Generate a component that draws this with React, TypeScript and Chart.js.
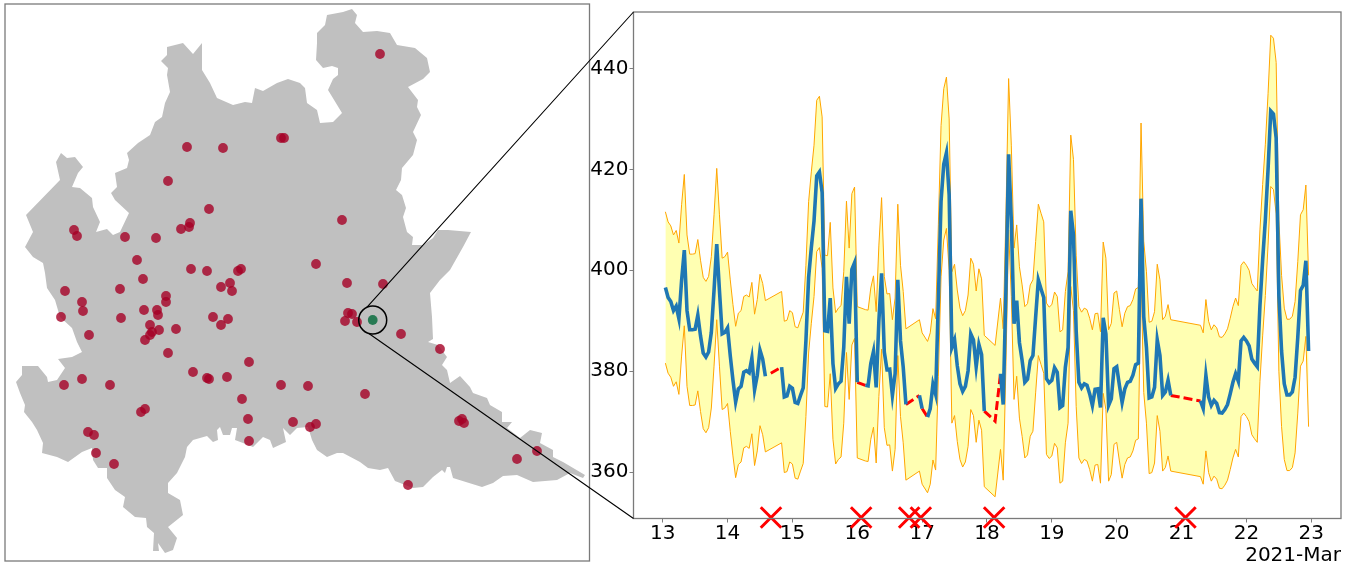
import React, { useEffect, useRef } from "react";
import { Chart, registerables } from "chart.js";

Chart.register(...registerables);

const n = null;

// ---------- Right panel: hourly readings from 13 March 00:00 (first reading is hour 1)
const dayTicks = [13, 14, 15, 16, 17, 18, 19, 20, 21, 22, 23];
const valueTicks = [360, 380, 400, 420, 440];
const dateLabel = "2021-Mar";

const meanValues = [
  396.6, 394.6, 393.8, 392, 392.9, 390.4, 398, 404, 392, 388.2, 388.2, 388.3,
  391.1, 387, 383.6, 382.8, 383.8, 387.7, 396, 405.2, 396, 387.4, 387.7, 388.6,
  383.1, 378.2, 373.9, 376.5, 377, 379.8, 380.1, 379.7, 382.6, 376.3, 379.2, 384.2,
  382.4, 379, n, n, n, n, n, 380.8, 374.9, 375.1, 377, 376.6,
  373.8, 373.6, 375.2, 376.7, 386, 398.6, 404.5, 409.8, 418.7, 419.5, 415.4, 388,
  387.9, 394.5, 381.5, 376.6, 377.5, 378, 384.7, 398.7, 389.4, 400.2, 401.5, 377.8,
  n, n, 377.2, 377.1, 381.5, 383.9, 376.8, 390, 399.4, 383.8, 380.3, 380.4,
  375.2, 379.5, 398.1, 386, 380.8, 373.4, n, n, n, n, 375.2, 372.6,
  n, 370.9, 372.6, 377.4, 375.4, 394, 413.7, 421, 423.3, 415, 384.7, 386.2,
  381.1, 377.5, 376, 377, 380.1, 387.4, 386.2, 380.9, 385.3, 383.3, 372.1, n,
  n, n, n, n, 379.5, 373.4, 396, 423, 409.8, 389.4, 394, 385.7,
  382.1, 377.8, 378.4, 382.1, 383.1, 390.7, 398.1, 396.3, 394.6, 378.5, 377.7, 378.2,
  380.7, 379.8, 372.8, 373.2, 380.8, 384.7, 411.8, 407, 388, 377.8, 376.7, 377.5,
  377.2, 375.5, 373.2, 376.4, 376.5, 372.8, 390.6, 387.4, 373.2, 374.5, 380.5, 380.9,
  377.2, 373.8, 376.5, 377.8, 378, 379.2, 381.3, 381.6, 414.2, 390.8, 384.7, 374.7,
  374.9, 376.8, 386.2, 383.1, 375.2, 375.9, 378.2, 375.2, n, n, n, n,
  n, n, n, n, n, n, 374.1, 372.6, 379.2, 374.9, 373.2, 374.2,
  373.6, 371.8, 371.7, 372.4, 373.4, 375.5, 377.8, 379.5, 378, 386, 386.7, 386,
  385, 382.4, 381.6, 380.9, 393, 402, 410, 420, 431.6, 431, 426.2, 395,
  384, 377.5, 375.3, 375.3, 375.9, 378.8, 386.7, 396, 397, 401.9, 384,
];

const upperValues = [
  411.6, 409.6, 408.8, 407, 407.9, 405.4, 413, 419, 407, 403.2, 403.2, 403.3,
  406.1, 402, 398.6, 397.8, 398.8, 402.7, 411, 420.2, 411, 402.4, 402.7, 403.6,
  398.1, 393.2, 388.9, 391.5, 392, 394.8, 395.1, 394.7, 397.6, 391.3, 394.2, 399.2,
  397.4, 394, n, n, n, n, n, 395.8, 389.9, 390.1, 392, 391.6,
  388.8, 388.6, 390.2, 391.7, 401, 413.6, 419.5, 424.8, 433.7, 434.5, 430.4, 403,
  402.9, 409.5, 396.5, 391.6, 392.5, 393, 399.7, 413.7, 404.4, 415.2, 416.5, 392.8,
  n, n, 392.2, 392.1, 396.5, 398.9, 391.8, 405, 414.4, 398.8, 395.3, 395.4,
  390.2, 394.5, 413.1, 401, 395.8, 388.4, n, n, n, n, 390.2, 387.6,
  n, 385.9, 387.6, 392.4, 390.4, 409, 428.7, 436, 438.3, 430, 399.7, 401.2,
  396.1, 392.5, 391, 392, 395.1, 402.4, 401.2, 395.9, 400.3, 398.3, 387.1, n,
  n, n, 385.1, n, 394.5, 388.4, 411, 438, 424.8, 404.4, 409, 400.7,
  397.1, 392.8, 393.4, 397.1, 398.1, 405.7, 413.1, 411.3, 409.6, 393.5, 392.7, 393.2,
  395.7, 394.8, 387.8, 388.2, 395.8, 399.7, 426.8, 422, 403, 392.8, 391.7, 392.5,
  392.2, 390.5, 388.2, 391.4, 391.5, 387.8, 405.6, 402.4, 388.2, 389.5, 395.5, 395.9,
  392.2, 388.8, 391.5, 392.8, 393, 394.2, 396.3, 396.6, 429.2, 405.8, 399.7, 389.7,
  389.9, 391.8, 401.2, 398.1, 390.2, 390.9, 393.2, 390.2, n, n, n, n,
  n, n, n, n, n, n, 389.1, 387.6, 394.2, 389.9, 388.2, 389.2,
  388.6, 386.8, 386.7, 387.4, 388.4, 390.5, 392.8, 394.5, 393, 401, 401.7, 401,
  400, 397.4, 396.6, 395.9, 408, 417, 425, 435, 446.6, 446, 441.2, 410,
  399, 392.5, 390.3, 390.3, 390.9, 393.8, 401.7, 411, 412, 416.9, 399,
];

const lowerValues = [
  381.6, 379.6, 378.8, 377, 377.9, 375.4, 383, 389, 377, 373.2, 373.2, 373.3,
  376.1, 372, 368.6, 367.8, 368.8, 372.7, 381, 390.2, 381, 372.4, 372.7, 373.6,
  368.1, 363.2, 358.9, 361.5, 362, 364.8, 365.1, 364.7, 367.6, 361.3, 364.2, 369.2,
  367.4, 364, n, n, n, n, n, 365.8, 359.9, 360.1, 362, 361.6,
  358.8, 358.6, 360.2, 361.7, 371, 383.6, 389.5, 394.8, 403.7, 404.5, 400.4, 373,
  372.9, 379.5, 366.5, 361.6, 362.5, 363, 369.7, 383.7, 374.4, 385.2, 386.5, 362.8,
  n, n, 362.2, 362.1, 366.5, 368.9, 361.8, 375, 384.4, 368.8, 365.3, 365.4,
  360.2, 364.5, 383.1, 371, 365.8, 358.4, n, n, n, n, 360.2, 357.6,
  n, 355.9, 357.6, 362.4, 360.4, 379, 398.7, 406, 408.3, 400, 369.7, 371.2,
  366.1, 362.5, 361, 362, 365.1, 372.4, 371.2, 365.9, 370.3, 368.3, 357.1, n,
  n, n, 355.1, n, 364.5, 358.4, 381, 408, 394.8, 374.4, 379, 370.7,
  367.1, 362.8, 363.4, 367.1, 368.1, 375.7, 383.1, 381.3, 379.6, 363.5, 362.7, 363.2,
  365.7, 364.8, 357.8, 358.2, 365.8, 369.7, 396.8, 392, 373, 362.8, 361.7, 362.5,
  362.2, 360.5, 358.2, 361.4, 361.5, 357.8, 375.6, 372.4, 358.2, 359.5, 365.5, 365.9,
  362.2, 358.8, 361.5, 362.8, 363, 364.2, 366.3, 366.6, 399.2, 375.8, 369.7, 359.7,
  359.9, 361.8, 371.2, 368.1, 360.2, 360.9, 363.2, 360.2, n, n, n, n,
  n, n, n, n, n, n, 359.1, 357.6, 364.2, 359.9, 358.2, 359.2,
  358.6, 356.8, 356.7, 357.4, 358.4, 360.5, 362.8, 364.5, 363, 371, 371.7, 371,
  370, 367.4, 366.6, 365.9, 378, 387, 395, 405, 416.6, 416, 411.2, 380,
  369, 362.5, 360.3, 360.3, 360.9, 363.8, 371.7, 381, 382, 386.9, 369,
];

// dashed repair lines over missing readings; a null breaks the line
const repairHours = [40, 44, 44, 72, 75, 75, 90, 95, 95, 96, 98, 98, 119, 123, 125, 125, 188, 199];
const repairValues = [379.6, 380.8, n, 377.8, 377.2, n, 373.4, 375.2, n, 372.6, 370.9, n, 372.1, 370.1, 379.5, n, 375.2, 374.1];

const anomalyDays = [14.67, 16.06, 16.8, 16.98, 18.11, 21.06];
const anomalyValues = [351, 351, 351, 351, 351, 351];

// ---------- Left panel: region outline and stations, in map units
const outlineX = [
  26, 60, 56, 61, 67, 75, 83, 78, 72, 80, 92, 93, 100, 96, 107, 113, 120, 129, 115, 111, 117, 115, 127, 129, 127, 138, 150, 155, 162, 165, 170, 167, 168, 161, 167, 167, 183, 193, 202, 202, 210, 217, 233, 245, 252, 255, 263, 277, 288, 300,
  305, 307, 317, 320, 333, 342, 328, 333, 338, 338, 332, 323, 316, 317, 317, 325, 327, 343, 352, 357, 355, 363, 377, 390, 397, 415, 427, 430, 423, 408, 418, 417, 421, 413, 417, 413, 402, 401, 396, 402, 406, 403, 407, 413, 412, 423, 433, 438, 448, 471, 463, 450, 440,
  430, 432, 433, 428, 438, 447, 442, 447, 450, 460, 470, 473, 487, 490, 502, 502, 512, 507, 520, 530, 542, 540, 553, 553, 563, 585, 583, 570, 557, 533, 517, 503, 493, 482, 453, 450, 447, 445, 442, 433, 423, 413, 395, 388, 380, 368, 360, 343, 337, 327, 317, 312, 308, 297,
  290, 283, 286, 273, 270, 263, 253, 243, 235, 237, 232, 230, 223, 220, 217, 218, 213, 207, 193, 187, 185, 177, 168, 168, 180, 183, 168, 177, 173, 165, 158, 159, 153, 154, 147, 146, 135, 123, 125, 115, 107, 107, 98, 93, 92, 82, 68, 57, 42, 43, 37, 32, 24, 25, 20, 16, 22, 22, 38, 47, 48, 57, 65, 58, 72, 82, 77, 72, 60, 55, 47, 45, 43, 33, 25, 33,
];
const outlineY = [
  215, 180, 162, 153, 158, 157, 167, 173, 187, 188, 198, 207, 222, 232, 229, 235, 232, 213, 200, 193, 187, 173, 168, 160, 153, 143, 135, 122, 117, 103, 92, 75, 68, 61, 55, 47, 43, 54, 43, 70, 83, 98, 105, 102, 103, 88, 91, 83, 79, 83,
  88, 103, 110, 123, 122, 113, 90, 79, 75, 68, 66, 68, 60, 43, 33, 25, 15, 12, 9, 15, 23, 32, 31, 33, 45, 48, 58, 72, 79, 87, 100, 107, 115, 132, 140, 155, 168, 180, 190, 195, 208, 217, 232, 237, 245, 245, 238, 230, 230, 232, 247, 270, 280,
  293, 317, 339, 342, 345, 357, 365, 370, 383, 376, 387, 393, 398, 405, 412, 422, 422, 428, 438, 430, 433, 443, 450, 457, 462, 475, 478, 473, 480, 482, 475, 476, 483, 487, 478, 467, 467, 473, 470, 477, 487, 488, 481, 468, 470, 468, 462, 453, 453, 457, 450, 440, 427, 428,
  435, 428, 442, 448, 440, 437, 447, 443, 440, 428, 428, 435, 435, 427, 430, 440, 442, 436, 440, 447, 457, 473, 483, 493, 500, 515, 527, 538, 550, 553, 543, 551, 551, 533, 527, 518, 517, 507, 497, 490, 478, 468, 468, 460, 448, 452, 462, 457, 453, 443, 430, 422, 412, 405, 393, 382, 375, 366, 366, 377, 382, 380, 368, 359, 357, 352, 342, 328, 317, 300, 288, 273, 263, 257, 247, 232,
];

const stationX = [
  187, 223, 281, 284, 168, 209, 190, 189, 181, 74, 77, 125, 156, 137, 191, 207, 238, 241, 143, 221, 230, 232, 65, 120, 82, 83, 61, 121, 144, 157, 158, 166, 166, 213, 228, 221, 150, 159, 176, 152, 150, 145, 89, 168, 249, 193, 207, 209, 227, 82, 64, 110, 281, 242, 145, 141, 248, 293, 88, 94, 249, 96, 114,
  380, 342, 316, 347, 383, 348, 352, 345, 357, 401, 440, 308, 365, 316, 310, 462, 459, 464, 517, 537, 408,
];
const stationY = [
  147, 148, 138, 138, 181, 209, 223, 227, 229, 230, 236, 237, 238, 260, 269, 271, 271, 269, 279, 287, 283, 291, 291, 289, 302, 311, 317, 318, 310, 310, 315, 296, 302, 317, 319, 325, 325, 330, 329, 332, 335, 340, 335, 353, 362, 372, 378, 379, 377, 379, 385, 385, 385, 399, 409, 412, 419, 422, 432, 435, 441, 453, 464,
  54, 220, 264, 283, 284, 313, 314, 321, 322, 334, 349, 386, 394, 424, 427, 419, 421, 423, 459, 451, 485,
];
const selectedX = [372.7];
const selectedY = [320];

function pairs(xs: number[], ys: (number | null)[]) {
  return xs.map((x, i) => ({ x, y: ys[i] }));
}
const hourToDay = (h: number) => 13 + h / 24;
const hours = meanValues.map((_, i) => i + 1);

const tickGrey = "#7f7f7f";
const frame = (color: string, width: number) => ({
  id: "frame",
  afterDraw(chart: any) {
    const { left, right, top, bottom } = chart.chartArea;
    const c = chart.ctx;
    c.save();
    c.strokeStyle = color;
    c.lineWidth = width;
    c.strokeRect(left, top, right - left, bottom - top);
    c.restore();
  },
});

export default function App() {
  const mapRef = useRef<HTMLCanvasElement>(null);
  const lineRef = useRef<HTMLCanvasElement>(null);

  useEffect(() => {
    const mapChart = new Chart(mapRef.current!, {
      type: "scatter",
      data: {
        datasets: [
          {
            data: pairs(selectedX, selectedY),
            pointRadius: 14,
            pointBackgroundColor: "rgba(0,0,0,0)",
            pointBorderColor: "#000",
            pointBorderWidth: 1.5,
            order: 0,
          },
          {
            data: pairs(selectedX, selectedY),
            pointRadius: 4.9,
            pointBorderWidth: 0,
            pointBackgroundColor: "rgba(0,104,55,0.8)",
            order: 1,
          },
          {
            data: pairs(stationX, stationY),
            pointRadius: 4.9,
            pointBorderWidth: 0,
            pointBackgroundColor: "rgba(165,0,38,0.8)",
            order: 2,
          },
          {
            data: pairs(outlineX, outlineY),
            showLine: true,
            fill: "shape",
            backgroundColor: "#c0c0c0",
            borderColor: "#c0c0c0",
            borderWidth: 0,
            pointRadius: 0,
            order: 3,
          },
        ],
      } as any,
      options: {
        animation: false,
        responsive: false,
        layout: { autoPadding: false, padding: { left: 5, top: 4, right: 10.5, bottom: 6 } },
        plugins: { legend: { display: false }, tooltip: { enabled: false } },
        scales: {
          x: { type: "linear", display: false, min: 5, max: 589.5 },
          y: { type: "linear", display: false, reverse: true, min: 4, max: 561 },
        },
      },
      plugins: [frame("#7a7a7a", 1.3)],
    });

    const connectors = {
      id: "connectors",
      afterDraw(chart: any) {
        const { left, top, bottom } = chart.chartArea;
        const cx = mapChart.scales.x.getPixelForValue(selectedX[0]);
        const cy = mapChart.scales.y.getPixelForValue(selectedY[0]);
        const r = 14;
        const a1 = (-114 * Math.PI) / 180;
        const a2 = (106 * Math.PI) / 180;
        const c = chart.ctx;
        c.save();
        c.strokeStyle = "#000";
        c.lineWidth = 1.1;
        c.beginPath();
        c.moveTo(cx + r * Math.cos(a1), cy + r * Math.sin(a1));
        c.lineTo(left, top);
        c.moveTo(cx + r * Math.cos(a2), cy + r * Math.sin(a2));
        c.lineTo(left, bottom);
        c.stroke();
        c.restore();
      },
    };

    const font = { family: "'DejaVu Sans'", size: 20 };
    const lineChart = new Chart(lineRef.current!, {
      type: "line",
      data: {
        datasets: [
          {
            type: "scatter",
            data: pairs(anomalyDays, anomalyValues),
            pointStyle: "crossRot",
            pointRadius: 14.5,
            pointBorderColor: "#ff0000",
            pointBorderWidth: 3,
            clip: false,
            order: 0,
          },
          {
            data: pairs(hours.map(hourToDay), meanValues),
            borderColor: "#1f77b4",
            borderWidth: 3.6,
            pointRadius: 0,
            spanGaps: false,
            borderJoinStyle: "miter",
            order: 1,
          },
          {
            data: pairs(repairHours.map(hourToDay), repairValues),
            borderColor: "#ff0000",
            borderWidth: 3,
            borderDash: [9, 4],
            pointRadius: 0,
            spanGaps: false,
            order: 2,
          },
          {
            data: pairs(hours.map(hourToDay), upperValues).filter((p) => p.y !== null),
            borderColor: "#ffa500",
            borderWidth: 1,
            pointRadius: 0,
            order: 3,
          },
          {
            data: pairs(hours.map(hourToDay), lowerValues).filter((p) => p.y !== null),
            borderColor: "#ffa500",
            borderWidth: 1,
            pointRadius: 0,
            fill: "-1",
            backgroundColor: "rgba(255,255,0,0.3)",
            order: 4,
          },
        ],
      } as any,
      options: {
        animation: false,
        responsive: false,
        layout: { autoPadding: false, padding: { left: 573.5, top: 12, right: 13, bottom: 0 } },
        plugins: { legend: { display: false }, tooltip: { enabled: false } },
        scales: {
          x: {
            type: "linear",
            min: 12.55,
            max: 23.458,
            afterBuildTicks: (s: any) => {
              s.ticks = dayTicks.map((value) => ({ value }));
            },
            afterFit: (s: any) => {
              s.height = 48.5;
              s.paddingLeft = 0;
              s.paddingRight = 0;
            },
            ticks: { font, color: "#000", padding: -1, maxRotation: 0, autoSkip: false, callback: (v: any) => String(v) },
            grid: { drawOnChartArea: false, drawTicks: true, tickLength: 4, tickColor: tickGrey },
            border: { display: false },
            title: { display: true, text: dateLabel, align: "end", font, color: "#000", padding: { top: 0, bottom: -0.5 } },
          },
          y: {
            type: "linear",
            min: 350.8,
            max: 451.2,
            afterBuildTicks: (s: any) => {
              s.ticks = valueTicks.map((value) => ({ value }));
            },
            afterFit: (s: any) => {
              s.width = 60;
              s.paddingTop = 0;
              s.paddingBottom = 0;
            },
            ticks: { font, color: "#000", padding: 1, callback: (v: any) => String(v) },
            grid: { drawOnChartArea: false, drawTicks: true, tickLength: 4, tickColor: tickGrey },
            border: { display: false },
          },
        },
      },
      plugins: [frame("#7a7a7a", 1.3), connectors],
    });

    return () => {
      lineChart.destroy();
      mapChart.destroy();
    };
  }, []);

  return (
    <div style={{ position: "fixed", left: 0, top: 0, width: 1354, height: 567, background: "#fff" }}>
      <canvas ref={mapRef} width={600} height={567} style={{ position: "absolute", left: 0, top: 0 }} />
      <canvas ref={lineRef} width={1354} height={567} style={{ position: "absolute", left: 0, top: 0 }} />
    </div>
  );
}
